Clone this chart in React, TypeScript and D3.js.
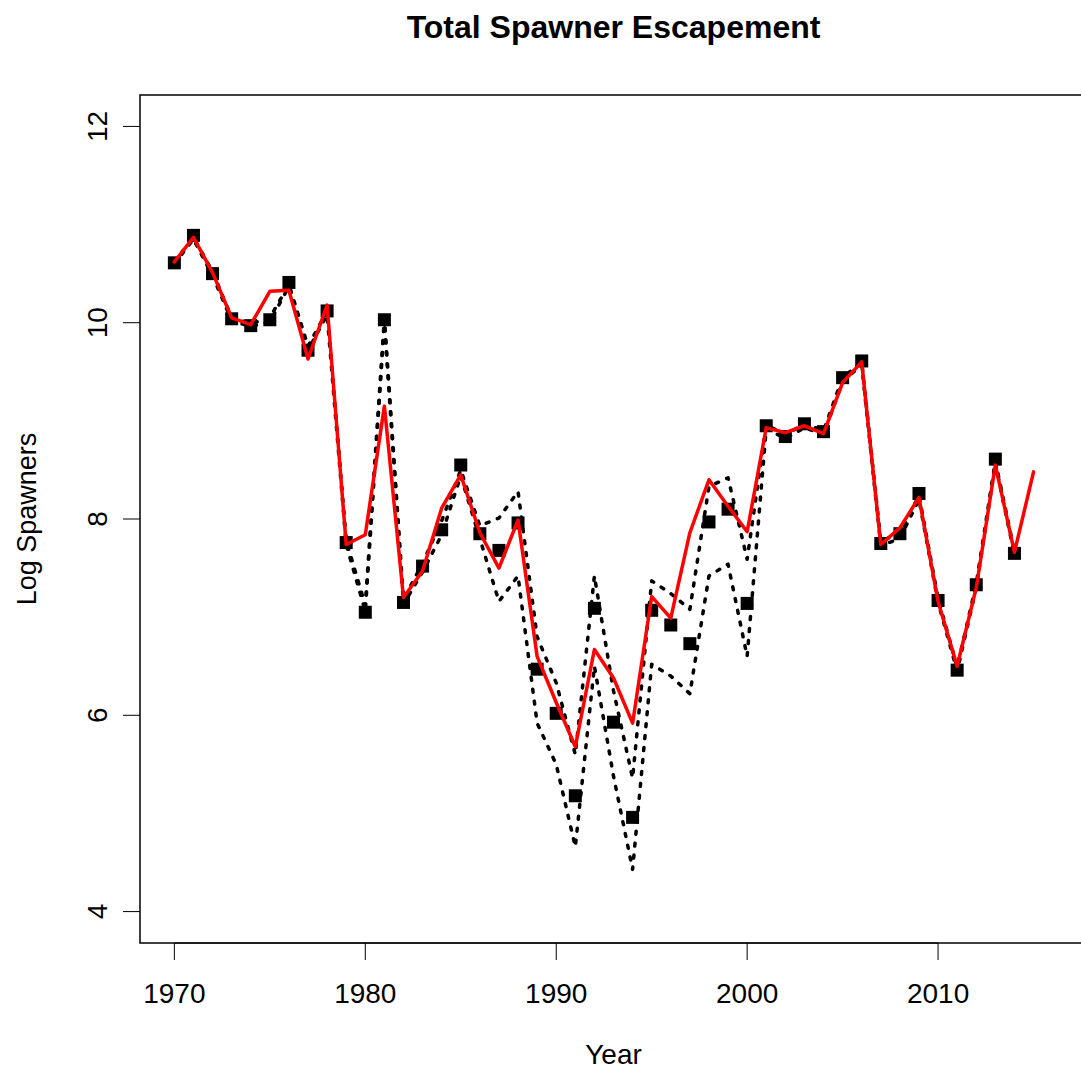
import { useEffect, useRef } from "react";
import * as d3 from "d3";

// observed log spawners (squares), 1970-2014
const obsYears = d3.range(1970, 2015);
const observed = [
  10.61, 10.89, 10.5, 10.04, 9.97, 10.03, 10.41, 9.72, 10.12, 7.76,
  7.05, 10.03, 7.15, 7.52, 7.89, 8.55, 7.85, 7.68, 7.96, 6.47,
  6.02, 5.18, 7.09, 5.93, 4.96, 7.07, 6.92, 6.73, 7.97, 8.1,
  7.14, 8.95, 8.84, 8.97, 8.89, 9.44, 9.61, 7.75, 7.85, 8.26,
  7.17, 6.46, 7.33, 8.61, 7.65,
];

// upper / lower dotted bounds, 1970-2014
const upper = [
  10.62, 10.87, 10.52, 10.05, 9.99, 10.05, 10.39, 9.76, 10.12, 7.78,
  7.12, 10.05, 7.18, 7.55, 7.98, 8.5, 7.93, 8.01, 8.28, 6.8,
  6.33, 5.6, 7.42, 6.25, 5.36, 7.37, 7.24, 7.08, 8.33, 8.42,
  7.59, 8.96, 8.86, 8.97, 8.9, 9.44, 9.6, 7.77, 7.86, 8.24,
  7.19, 6.49, 7.34, 8.59, 7.67,
];
const lower = [
  10.6, 10.85, 10.48, 10.02, 9.96, 10.01, 10.37, 9.72, 10.08, 7.74,
  7.06, 9.99, 7.13, 7.46, 7.84, 8.44, 7.8, 7.16, 7.42, 5.92,
  5.5, 4.66, 6.5, 5.38, 4.43, 6.52, 6.4, 6.22, 7.42, 7.54,
  6.6, 8.92, 8.82, 8.93, 8.86, 9.4, 9.57, 7.73, 7.8, 8.2,
  7.15, 6.45, 7.3, 8.57, 7.63,
];

// model estimate (red), 1970-2015
const estYears = d3.range(1970, 2016);
const estimate = [
  10.62, 10.87, 10.51, 10.05, 9.98, 10.32, 10.33, 9.63, 10.18, 7.74,
  7.84, 9.15, 7.2, 7.47, 8.11, 8.45, 7.86, 7.5, 7.99, 6.6,
  6.13, 5.68, 6.67, 6.38, 5.92, 7.21, 6.99, 7.86, 8.4, 8.13,
  7.87, 8.93, 8.88, 8.95, 8.87, 9.39, 9.6, 7.74, 7.91, 8.22,
  7.16, 6.5, 7.3, 8.55, 7.66, 8.48,
];

const xTicks = [1970, 1980, 1990, 2000, 2010];
const yTicks = [4, 6, 8, 10, 12];

const W = 1081, H = 1072;
const font = "'Liberation Sans', Arial, Helvetica, sans-serif";

export default function App() {
  const ref = useRef<SVGSVGElement>(null);

  useEffect(() => {
    const svg = d3.select(ref.current);
    svg.selectAll("*").remove();

    const left = 140, right = 1087, top = 95, bottom = 943;
    const x = d3.scaleLinear().domain([1968.2, 2017.8]).range([left, right]);
    const y = d3.scaleLinear().domain([3.68, 12.32]).range([bottom, top]);

    svg.append("rect").attr("width", W).attr("height", H).attr("fill", "#fff");

    // title
    svg.append("text")
      .attr("x", (left + right) / 2).attr("y", 38)
      .attr("text-anchor", "middle")
      .attr("font-family", font).attr("font-weight", "bold").attr("font-size", 32)
      .text("Total Spawner Escapement");

    // x axis
    const xa = svg.append("g");
    xa.append("line")
      .attr("x1", x(1970)).attr("x2", x(2010))
      .attr("y1", bottom).attr("y2", bottom)
      .attr("stroke", "#000");
    xTicks.forEach((t) => {
      xa.append("line")
        .attr("x1", x(t)).attr("x2", x(t))
        .attr("y1", bottom).attr("y2", bottom + 17)
        .attr("stroke", "#000").attr("stroke-width", 1);
      xa.append("text")
        .attr("x", x(t)).attr("y", 1003)
        .attr("text-anchor", "middle")
        .attr("font-family", font).attr("font-size", 28)
        .text(t);
    });

    // y axis
    const ya = svg.append("g");
    yTicks.forEach((t) => {
      ya.append("line")
        .attr("x1", left - 17).attr("x2", left)
        .attr("y1", y(t)).attr("y2", y(t))
        .attr("stroke", "#000").attr("stroke-width", 1);
      ya.append("text")
        .attr("transform", `translate(107,${y(t)}) rotate(-90)`)
        .attr("text-anchor", "middle")
        .attr("font-family", font).attr("font-size", 28)
        .text(t);
    });

    svg.append("text")
      .attr("x", (left + right) / 2).attr("y", 1064)
      .attr("text-anchor", "middle")
      .attr("font-family", font).attr("font-size", 28)
      .text("Year");
    svg.append("text")
      .attr("transform", `translate(36,${(top + bottom) / 2}) rotate(-90)`)
      .attr("text-anchor", "middle")
      .attr("font-family", font).attr("font-size", 27)
      .text("Log Spawners");

    // plot box
    svg.append("rect")
      .attr("x", left).attr("y", top)
      .attr("width", right - left).attr("height", bottom - top)
      .attr("fill", "none").attr("stroke", "#000").attr("stroke-width", 1.5);

    // observed squares
    const s = 13;
    svg.append("g").selectAll("rect")
      .data(observed)
      .enter().append("rect")
      .attr("x", (d, i) => x(obsYears[i]) - s / 2)
      .attr("y", (d) => y(d) - s / 2)
      .attr("width", s).attr("height", s)
      .attr("fill", "#000");

    const line = (ys: number[]) =>
      d3.line<number>().x((d, i) => x(ys[i])).y((d) => y(d));

    [upper, lower].forEach((band) => {
      svg.append("path")
        .attr("d", line(obsYears)(band))
        .attr("fill", "none").attr("stroke", "#000")
        .attr("stroke-width", 3.5)
        .attr("stroke-dasharray", "3 9")
        .attr("stroke-linecap", "round")
        .attr("stroke-linejoin", "round");
    });

    svg.append("path")
      .attr("d", line(estYears)(estimate))
      .attr("fill", "none").attr("stroke", "#ff0000")
      .attr("stroke-width", 3.5)
      .attr("stroke-linejoin", "round")
      .attr("stroke-linecap", "round");
  }, []);

  return (
    <svg
      ref={ref}
      width={W}
      height={H}
      style={{ position: "absolute", left: 0, top: 0 }}
    />
  );
}
